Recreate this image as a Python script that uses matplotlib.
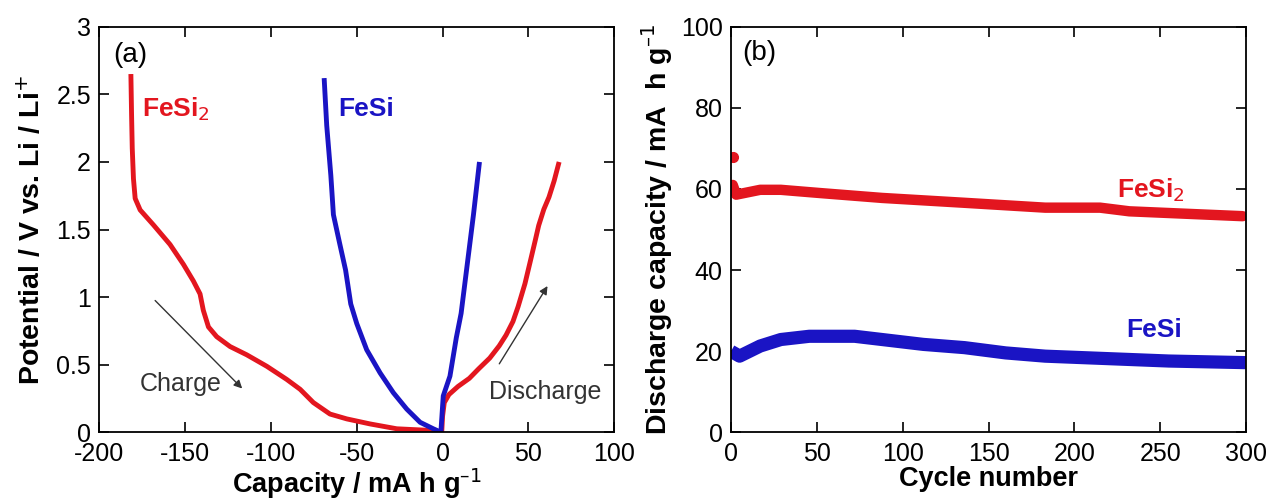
import numpy as np
import matplotlib
matplotlib.use("Agg")
import matplotlib.pyplot as plt

plt.rcParams['font.family'] = ['Liberation Sans', 'DejaVu Sans']
plt.rcParams['axes.unicode_minus'] = False

RED = '#e3161f'
BLUE = '#1a14c4'

# (a) charge/discharge curves: capacity (mA h/g), potential (V)
fesi2_chg_x = [-181.6, -181.2, -180.8, -180.1, -179.1, -176.2, -168.5, -158.8, -151, -145.2, -141.3,
               -139.4, -136.4, -131.6, -123.8, -114.1, -102.4, -90.8, -83, -75.3, -65.6, -55.8,
               -42.3, -26.7, -7.3, -1.5]
fesi2_chg_y = [2.65, 2.35, 2.1, 1.876, 1.73, 1.645, 1.535, 1.39, 1.243, 1.12, 1.024,
               0.903, 0.78, 0.708, 0.635, 0.574, 0.489, 0.392, 0.319, 0.221, 0.136, 0.1,
               0.063, 0.027, 0.015, 0.002]
fesi2_dis_x = [-0.5, 0.0, 1.0, 3.7, 9, 15.6, 21, 27.5, 33, 37, 41, 44, 48, 51.2, 54, 56, 59, 62, 65, 67.9]
fesi2_dis_y = [0.0, 0.12, 0.22, 0.28, 0.34, 0.40, 0.47, 0.55, 0.64, 0.72, 0.82, 0.93, 1.10, 1.27,
               1.42, 1.53, 1.65, 1.74, 1.86, 2.0]

fesi_chg_x = [-69, -67.5, -65.1, -63.6, -60, -56.5, -53.5, -50, -44.2, -36.4, -28.7, -20.9, -13.1,
              -5.4, -1.5]
fesi_chg_y = [2.62, 2.27, 1.90, 1.61, 1.40, 1.20, 0.95, 0.805, 0.611, 0.44, 0.294, 0.173, 0.075,
              0.027, 0.005]
fesi_dis_x = [-1, 0.4, 4.3, 8, 10.8, 14.4, 18, 21.5]
fesi_dis_y = [0.0, 0.27, 0.416, 0.70, 0.88, 1.245, 1.61, 2.0]

# (b) cycling: cycle number, discharge capacity (mA h/g)
fesi2_cyc = [1, 1, 3, 17, 29, 52, 88, 136, 183, 215, 232, 298]
fesi2_cap = [67.9, 61, 58.6, 59.8, 59.8, 59.0, 57.8, 56.6, 55.4, 55.4, 54.5, 53.3]
fesi_cyc = [0, 5, 17, 29, 45.6, 72, 88, 112, 136, 160, 183, 207, 231, 255, 300]
fesi_cap = [20.0, 18.8, 21.3, 22.9, 23.7, 23.7, 22.9, 21.7, 20.9, 19.6, 18.8, 18.4, 18.0, 17.6, 17.2]

fig = plt.figure(figsize=(12.78, 5.04), dpi=100)
ax1 = fig.add_axes([0.0777, 0.142, 0.4029, 0.805])
ax2 = fig.add_axes([0.5720, 0.142, 0.4030, 0.805])


def style(ax):
    for s in ax.spines.values():
        s.set_linewidth(1.3)
    ax.tick_params(direction='in', length=7, width=1.2, top=True, right=True, labelsize=18)
    ax.tick_params(axis='x', pad=7)
    ax.tick_params(axis='y', pad=6)


# panel (a)
ax1.plot(fesi2_chg_x, fesi2_chg_y, color=RED, lw=3.5, solid_capstyle='butt')
ax1.plot(fesi2_dis_x, fesi2_dis_y, color=RED, lw=3.5, solid_capstyle='butt')
ax1.plot(fesi_chg_x, fesi_chg_y, color=BLUE, lw=3.5, solid_capstyle='butt')
ax1.plot(fesi_dis_x, fesi_dis_y, color=BLUE, lw=3.5, solid_capstyle='butt')
ax1.set_xlim(-200, 100)
ax1.set_ylim(0, 3)
ax1.set_xticks(np.arange(-200, 101, 50))
ax1.set_yticks([0, 0.5, 1, 1.5, 2, 2.5, 3])
ax1.set_yticklabels(['0', '0.5', '1', '1.5', '2', '2.5', '3'])
style(ax1)
ax1.set_xlabel('Capacity / mA h g$^{\u2013 1}$', fontsize=19.5, fontweight='bold', labelpad=0)
ax1.set_ylabel('Potential / V vs. Li / Li$^{+}$', fontsize=20.5, fontweight='bold', labelpad=7)

ax1.text(-192, 2.79, '(a)', fontsize=20, va='center', ha='left')
ax1.text(-175, 2.39, 'FeSi$_{2}$', fontsize=19, fontweight='bold', color=RED, va='center', ha='left')
ax1.text(-61, 2.39, 'FeSi', fontsize=19, fontweight='bold', color=BLUE, va='center', ha='left')
ax1.text(-152.5, 0.36, 'Charge', fontsize=18, color='#333333', va='center', ha='center')
ax1.text(59.5, 0.30, 'Discharge', fontsize=18, color='#333333', va='center', ha='center')
ax1.annotate('', xy=(-115.6, 0.31), xytext=(-168.6, 0.99),
             arrowprops=dict(arrowstyle='-|>', color='#333333', lw=1, mutation_scale=12))
ax1.annotate('', xy=(62, 1.10), xytext=(32.2, 0.49),
             arrowprops=dict(arrowstyle='-|>', color='#333333', lw=1, mutation_scale=12))

# panel (b)
ax2.plot(fesi2_cyc[1:], fesi2_cap[1:], color=RED, lw=7.5, solid_capstyle='round')
ax2.plot(fesi2_cyc[:1], fesi2_cap[:1], 'o', color=RED, ms=7)
ax2.plot(fesi_cyc, fesi_cap, color=BLUE, lw=9.5, solid_capstyle='butt')
ax2.set_xlim(0, 300)
ax2.set_ylim(0, 100)
ax2.set_xticks(np.arange(0, 301, 50))
ax2.set_yticks(np.arange(0, 101, 20))
style(ax2)
ax2.set_xlabel('Cycle number', fontsize=19.5, fontweight='bold', labelpad=0)
ax2.set_ylabel('Discharge capacity / mA  h g$^{\u2013 1}$', fontsize=20.5, fontweight='bold',
               labelpad=4)

ax2.text(6.4, 93.5, '(b)', fontsize=20, va='center', ha='left')
ax2.text(225, 59.8, 'FeSi$_{2}$', fontsize=19, fontweight='bold', color=RED, va='center', ha='left')
ax2.text(230, 25.3, 'FeSi', fontsize=19, fontweight='bold', color=BLUE, va='center', ha='left')

fig.savefig('out.png', dpi=100)
